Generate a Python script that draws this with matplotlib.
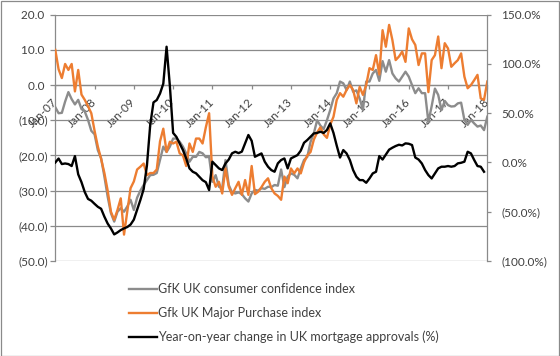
import numpy as np
import pandas as pd
import matplotlib
matplotlib.use("Agg")
import matplotlib.pyplot as plt
from matplotlib.patches import Rectangle
from matplotlib.ticker import FuncFormatter

# monthly categories, Jan-07 .. Jan-18
months = pd.date_range("2007-01-01", "2018-01-01", freq="MS")

# GfK UK consumer confidence index (left axis)
confidence = [
    -6.3, -8, -7.9, -4.7, -2, -4, -5.5, -4.2, -6.8, -7.5, -9.9, -13,
    -14, -18.5, -20.8, -26, -31.7, -36.4, -38.8, -36, -35, -36, -34.5, -32.6,
    -35.5, -32, -30, -28.4, -27, -25.6, -25.5, -25, -21.3, -17.5, -19, -17.5,
    -15.2, -15.2, -16.1, -17.5, -19.4, -21.8, -20.4, -20.4, -19, -19.4, -20.5, -20.4,
    -27.5, -25.6, -28.9, -29.3, -21.3, -28.4, -30.5, -30.8, -30.5, -31, -32.2, -33.1,
    -30.8, -29.8, -30, -29.3, -29.5, -28.9, -29, -28.4, -28.6, -24, -29, -26,
    -25.1, -25.5, -26.5, -23.7, -21.3, -20.4, -16.1, -13.7, -10, -11.5, -12.5, -10,
    -7.1, -3.8, -2.3, 1, 0.5, -1.4, 1, -1.9, -1.5, -3.8, -7.1, 1,
    1, 3.3, 4.3, 1.2, 6.8, 3.8, 7.1, 3.3, 1.9, 1, 2.4, 3.8,
    2.4, 0, -2.3, -0.9, -2.3, -2.3, -10.5, -6, -1, -2.8, -7.1, -4.5,
    -5.7, -6.1, -6, -5.2, -5, -9.9, -11.3, -9.9, -10.9, -11.8, -11.5, -12.8,
    -9,
]

# GfK UK Major Purchase index (left axis)
major_purchase = [
    10, 4.5, 2, 6, 4.3, 6, -1.8, 4.3, -2.7, -4.2, -6, -8,
    -13, -17.5, -21, -25, -30, -36, -38.3, -35.5, -32.2, -42.5, -36, -29.3,
    -27.4, -24, -23.2, -22.3, -25.6, -25, -25, -24, -16, -12.4, -19, -16.1,
    -16.6, -16.1, -19.4, -20, -23, -16.6, -19, -15.2, -15.2, -16.6, -12, -8,
    -26, -28.9, -27.5, -30.8, -23.7, -28.9, -31.2, -29.3, -27.5, -31.2, -27, -31.2,
    -23, -31, -30.3, -29, -27.5, -26.5, -29.3, -30.8, -31.5, -32.6, -26, -27.9,
    -23.7, -25.1, -23.7, -25.1, -22, -20, -19, -15.5, -13.5, -12, -14, -15,
    -11.3, -9, -4.2, -2.3, -3.3, -1.4, 0, -1.4, -5.2, -0.5, -2.8, 0,
    4.8, 4.3, 8.5, 3, 15.6, 10.9, 17.1, 12.8, 7.1, 8.1, 9.5, 6.6,
    16.1, 13, 11.4, 5.7, 9, 9, -2, 7.1, 8.5, 13.8, 4.8, 11.9,
    10.4, 5.2, 6.2, 7.1, 9, 2.4, -0.9, 0, 1.4, 2.9, -3.8, -4.2,
    1,
]

# Year-on-year change in UK mortgage approvals, % (right axis), to Dec-17
mortgage_yoy = [
    0, 4, -1.6, -1, -1.6, -3.6, 6.5, -12, -20, -30, -37, -38.8,
    -42, -45, -47, -55, -62, -67, -73, -71, -68.6, -66.9, -65.5, -63,
    -58, -48, -38, -27, -3, 38, 61, 63.4, 70, 80, 117.5, 78,
    30, 26, 19.4, 12.6, 4, -6, -9.4, -11, -14.5, -18, -20, -28,
    0.8, -2.6, -6, -7.7, -1, 3, 9.3, 10.9, 9.5, 11, 19.4, 27.9,
    22, 5.8, 7.5, 9.2, 0.8, -4.3, -7.7, -9.4, -0.9, 2.5, 4.1, -6,
    4.1, 5.8, 7.5, 12, 20, 22.8, 26.1, 29.5, 30, 31.2, 30, 33,
    39.7, 30, 17, 5, 12.6, 9.2, 2.5, -7.7, -14.5, -17.9, -17.9, -20.6,
    -16.2, -11.1, -9.4, 6.5, 3, 8, 13, 15, 16.7, 18, 17.3, 19.4,
    19, 17.7, 5, 3, -1, -7.7, -12.8, -16.2, -11, -6, -4.3, -4.3,
    -3.6, -4.3, -3.6, -0.9, -0.3, 0.8, 10.9, 9.2, 2.5, -3.6, -4.3, -9.4,
]

series_labels = [
    "GfK UK consumer confidence index",
    "Gfk UK Major Purchase index",
    "Year-on-year change in UK mortgage approvals (%)",
]

plt.rcParams["font.family"] = ["Lato", "DejaVu Sans"]
txt = "#404040"
grid = "#8a8a8a"

fig = plt.figure(figsize=(5.6, 3.56), dpi=100)
ax = fig.add_axes([55.3 / 560, 1 - 261 / 356, 432 / 560, 246.3 / 356])
ax2 = ax.twinx()

x = np.arange(len(months))
l1, = ax.plot(x, confidence, color="#8c8c8c", lw=1.7, zorder=3)
l2, = ax.plot(x, major_purchase, color="#ed7d31", lw=1.7, zorder=4)
l3, = ax2.plot(x[:len(mortgage_yoy)], mortgage_yoy, color="black", lw=1.7, zorder=5)

ax.set_xlim(0, len(months) - 1)
ax.set_ylim(-50, 20)
ax.set_yticks(np.arange(-50, 21, 10))
ax.yaxis.set_major_formatter(FuncFormatter(
    lambda v, p: f"{v:.1f} " if v >= 0 else f"({-v:.1f})"))
ax.grid(axis="y", color=grid, lw=0.9)
ax.set_axisbelow(True)

# category axis crosses the left axis at 0 (move spine before styling ticks)
ax.spines["bottom"].set_position(("data", 0))
for s in ["top", "right"]:
    ax.spines[s].set_visible(False)
for s in ["left", "bottom"]:
    ax.spines[s].set_color(grid)
    ax.spines[s].set_linewidth(0.9)

jan = [i for i, m in enumerate(months) if m.month == 1]
ax.set_xticks(jan)
ax.set_xticklabels([months[i].strftime("%b-%y") for i in jan])
ax.tick_params(axis="x", direction="out", length=3, width=0.9, color=grid,
               pad=8, labelsize=8.5, labelcolor=txt)
for lab in ax.get_xticklabels():
    lab.set_rotation(45)
    lab.set_ha("right")
    lab.set_va("center")
    lab.set_rotation_mode("anchor")
ax.tick_params(axis="y", direction="out", length=3.5, width=0.9, color=grid,
               pad=2, labelsize=8.5, labelcolor=txt)

ax2.set_ylim(-100, 150)
ax2.set_yticks(np.arange(-100, 151, 50))
ax2.yaxis.set_major_formatter(FuncFormatter(
    lambda v, p: f"{v:.1f}%" if v >= 0 else f"({-v:.1f}%)"))
for s in ["top", "left", "bottom"]:
    ax2.spines[s].set_visible(False)
ax2.spines["right"].set_color(grid)
ax2.spines["right"].set_linewidth(0.9)
ax2.tick_params(axis="y", direction="out", length=3, width=0.9, color=grid,
                pad=7, labelsize=8.5, labelcolor=txt)

fig.legend([l1, l2, l3], series_labels, loc="upper left",
           bbox_to_anchor=(129 / 560, 1 - 283 / 356), frameon=False,
           fontsize=9, labelcolor=txt, handlelength=2.2, handletextpad=0.1,
           labelspacing=0.95, borderaxespad=0, borderpad=0)

fig.patches.append(Rectangle((0.5 / 560, 0.5 / 356), 558.5 / 560, 354.5 / 356,
                             transform=fig.transFigure, fill=False,
                             edgecolor="#8a8a8a", lw=0.9))

fig.savefig("out.png", dpi=100)
